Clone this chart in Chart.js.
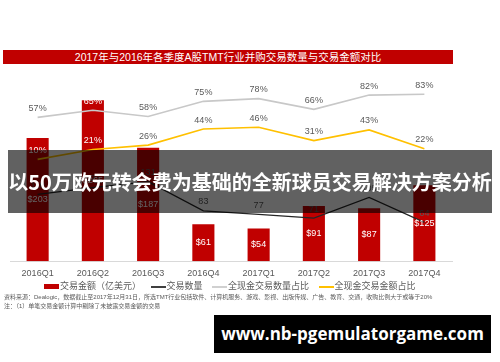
<!DOCTYPE html>
<html lang="zh-CN">
<head>
  <meta charset="UTF-8" />
  <title>2017年与2016年各季度A股TMT行业并购交易数量与交易金额对比</title>
  <script src="https://cdn.jsdelivr.net/npm/chart.js"></script>
  <style>
    body {
      margin: 0;
      width: 500px;
      height: 362px;
      background: #ffffff;
      position: relative;
      overflow: hidden;
      font-family: "Liberation Sans", "Noto Sans CJK SC", sans-serif;
      color: #595959;
    }
    .title-bar {
      position: absolute;
      left: 3px; top: 50px;
      width: 450px; height: 14px;
      background: #c00000;
      color: #fff;
      font-size: 10.5px;
      line-height: 14px;
      text-align: center;
    }
    #chartBox {
      position: absolute;
      left: 0; top: 66px;
      width: 500px; height: 220px;
    }
    .legend {
      position: absolute;
      top: 280px; left: 44px;
      font-size: 9px;
      line-height: 13px;
      white-space: nowrap;
    }
    .legend span.item { margin-right: 7px; }
    .legend i {
      display: inline-block;
      width: 15px;
      vertical-align: middle;
      margin-right: 1px;
    }
    .notes {
      position: absolute;
      left: 4px; top: 293px;
      font-size: 6px;
      line-height: 8.5px;
      white-space: nowrap;
    }
    .banner {
      position: absolute;
      left: 8px; top: 150px;
      width: 484px; height: 63px;
      background: rgba(0, 0, 0, 0.62);
      color: #fff;
      font-family: "Noto Sans CJK SC", sans-serif;
      font-weight: bold;
      font-size: 20px;
      line-height: 63px;
      text-align: center;
      white-space: nowrap;
    }
    .site {
      position: absolute;
      left: 214px; top: 315px;
      width: 277px; height: 38px;
      background: #000;
      color: #fff;
      font-family: "Open Sans", sans-serif;
      font-weight: bold;
      font-size: 17px;
      line-height: 38px;
      text-align: center;
      white-space: nowrap;
    }
  </style>
</head>
<body>
  <div class="title-bar">2017年与2016年各季度A股TMT行业并购交易数量与交易金额对比</div>

  <div id="chartBox"><canvas id="chart"></canvas></div>

  <div class="legend">
    <span class="item"><i style="height:5px;background:#c00000"></i>交易金额（亿美元）</span>
    <span class="item"><i style="height:2px;background:#404040"></i>交易数量</span>
    <span class="item"><i style="height:2px;background:#d0d0d0"></i>全现金交易数量占比</span>
    <span class="item"><i style="height:2px;background:#ffc000"></i>全现金交易金额占比</span>
  </div>

  <div class="notes">
    资料来源：Dealogic，数据截止至2017年12月31日，所选TMT行业包括软件、计算机服务、游戏、影视、出版传媒、广告、教育、交通，收购比例大于或等于20%<br>
    注：（1）单笔交易金额计算中剔除了未披露交易金额的交易
  </div>

  <div class="banner">以50万欧元转会费为基础的全新球员交易解决方案分析</div>
  <div class="site">www.nb-pgemulatorgame.com</div>

  <script>
    // 数据
    const quarters = ['2016Q1', '2016Q2', '2016Q3', '2016Q4', '2017Q1', '2017Q2', '2017Q3', '2017Q4'];
    const dealValue = [203, 265, 187, 61, 54, 91, 87, 125];      // 亿美元
    const dealCount = [110, 121, 131, 83, 77, 71, 105, 64];
    const cashCountShare = [57, 65, 58, 75, 78, 66, 82, 83];     // %
    const cashValueShare = [10, 21, 26, 44, 46, 31, 43, 22];     // %

    const labelFont = '9px "Liberation Sans", "Noto Sans CJK SC", sans-serif';

    // étiquettes de valeurs dessinées à la main
    const valueLabels = {
      id: 'valueLabels',
      afterDatasetsDraw(chart) {
        const ctx = chart.ctx;
        const bars = chart.getDatasetMeta(0).data;
        ctx.save();
        ctx.font = labelFont;
        ctx.textAlign = 'center';
        ctx.textBaseline = 'middle';
        chart.data.datasets.forEach((ds, di) => {
          const meta = chart.getDatasetMeta(di);
          meta.data.forEach((el, i) => {
            const v = ds.data[i];
            if (di === 0) {
              ctx.fillStyle = '#ffffff';
              ctx.fillText('$' + v, el.x, (el.y + el.base) / 2);
              return;
            }
            const y = el.y - 9;
            const inBar = di > 1 && y > bars[i].y - 5;
            ctx.fillStyle = inBar ? '#ffffff' : '#595959';
            ctx.fillText(di === 1 ? String(v) : v + '%', el.x, y);
          });
        });
        ctx.restore();
      }
    };

    const ctx = document.getElementById('chart').getContext('2d');
    const chart = new Chart(ctx, {
      data: {
        labels: quarters,
        datasets: [
          {
            type: 'bar', label: '交易金额（亿美元）', data: dealValue,
            backgroundColor: '#c00000', yAxisID: 'y', order: 2,
            barPercentage: 0.8, categoryPercentage: 0.5
          },
          {
            type: 'line', label: '交易数量', data: dealCount,
            borderColor: '#262626', borderWidth: 1.2, pointRadius: 0,
            tension: 0, yAxisID: 'y', order: 1
          },
          {
            type: 'line', label: '全现金交易数量占比', data: cashCountShare,
            borderColor: '#c8c8c8', borderWidth: 1.6, pointRadius: 0,
            tension: 0, yAxisID: 'y2', order: 1
          },
          {
            type: 'line', label: '全现金交易金额占比', data: cashValueShare,
            borderColor: '#ffc000', borderWidth: 1.6, pointRadius: 0,
            tension: 0, yAxisID: 'y2', order: 1
          }
        ]
      },
      options: {
        responsive: true,
        maintainAspectRatio: false,
        animation: false,
        layout: { padding: { top: 13, left: 10, right: 48, bottom: 0 } },
        plugins: {
          legend: { display: false },
          tooltip: { enabled: false }
        },
        scales: {
          x: {
            grid: { display: false, drawTicks: false },
            border: { display: true, color: '#d9d9d9', width: 1 },
            ticks: {
              color: '#595959', padding: 7,
              font: { family: '"Liberation Sans", sans-serif', size: 9 }
            }
          },
          y: { display: false, min: 0, max: 300 },
          y2: { display: false, min: -104, max: 100 }
        }
      },
      plugins: [valueLabels]
    });
  </script>
</body>
</html>
